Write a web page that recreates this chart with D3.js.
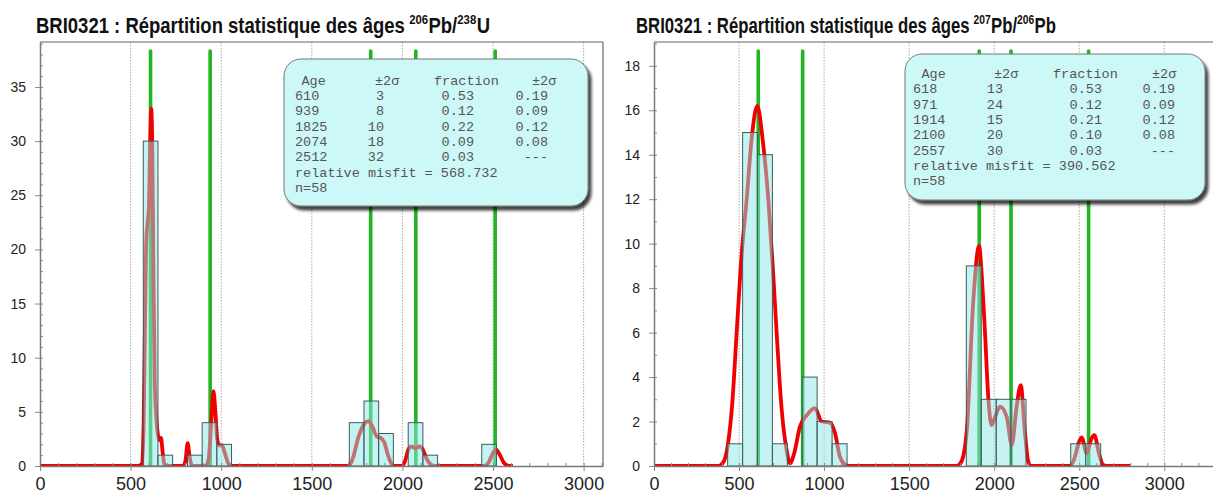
<!DOCTYPE html>
<html><head><meta charset="utf-8">
<script src="https://cdn.jsdelivr.net/npm/d3@7"></script>
<style>body{margin:0;background:#fff} svg{display:block} .pre{white-space:pre}</style>
</head><body>
<svg id="chart" width="1213" height="501"></svg>
<script>
// ---- 206Pb/238U ages (left panel) ----
const binLoU = [570, 651, 814, 895, 976, 1707, 1788, 1869, 2032, 2113, 2438];
const binHiU = [651, 732, 895, 976, 1057, 1788, 1869, 1950, 2113, 2194, 2519];
const countU = [30, 1, 1, 4, 2, 4, 6, 3, 4, 1, 2];
const peakLineU = [610, 939, 1825, 2074, 2512];
const densityU = [
  [0,0],[540,0],[562,0.2],[572,4],[580,14],[587,21],[594,22.5],[601,24],[607,29],[614,33],
  [620,29],[626,18],[633,8],[641,4.8],[650,3],[660,2.4],[668,2.6],[676,1.4],[686,0.2],[700,0],
  [790,0],[803,0.5],[815,2.1],[826,0.8],[840,0],[915,0],[930,0.6],[945,4],[957,6.9],
  [968,5],[978,2.5],[988,1.9],[1005,1.9],[1020,1.2],[1040,0.2],[1060,0],
  [1700,0],[1722,0.5],[1760,2.8],[1790,3.9],[1812,4.15],[1835,3.6],[1860,2.7],[1880,2.6],
  [1900,2.2],[1920,1],[1945,0.1],[1960,0],[2000,0],[2015,0.5],[2035,1.6],[2050,1.8],
  [2070,1.65],[2095,1.8],[2110,1.6],[2130,0.8],[2160,0.1],[2185,0],[2450,0],[2475,0.3],
  [2500,1.2],[2517,1.5],[2535,1.1],[2560,0.3],[2590,0],[2610,0]
];
const tableAgeU = ["610", "939", "1825", "2074", "2512"];
const tableAgeErrU = ["3", "8", "10", "18", "32"];
const tableFracU = ["0.53", "0.12", "0.22", "0.09", "0.03"];
const tableFracErrU = ["0.19", "0.09", "0.12", "0.08", "---"];
const misfitU = "568.732";
const yTicksU = [0, 5, 10, 15, 20, 25, 30, 35];

// ---- 207Pb/206Pb ages (right panel) ----
const binLoPb = [433, 521, 608, 696, 784, 872, 959, 1047, 1836, 1924, 2012, 2099, 2450, 2538];
const binHiPb = [521, 608, 696, 784, 872, 959, 1047, 1135, 1924, 2012, 2099, 2187, 2538, 2626];
const countPb = [1, 15, 14, 1, 0, 4, 2, 1, 9, 3, 3, 3, 1, 1];
const peakLinePb = [613, 874, 1912, 2099, 2555];
const densityPb = [
  [0,0],[380,0],[410,0.2],[433,0.9],[460,2.8],[486,6],[515,9.5],[545,12],[575,14.8],[607,16.2],
  [640,14.6],[672,12],[698,9],[721,6],[750,2.6],[780,0.7],[800,0.12],[825,0.6],[858,1.77],
  [900,2.3],[946,2.6],[986,2.0],[1035,1.95],[1064,1.48],[1093,0.42],[1123,0.06],[1145,0],
  [1780,0],[1800,0.1],[1820,0.5],[1838,1.5],[1877,7.4],[1911,9.9],[1930,8.2],[1946,6],
  [1966,3],[1985,1.84],[2005,2.2],[2034,2.67],[2074,2.2],[2103,0.94],[2132,2.67],[2156,3.64],
  [2181,1.47],[2200,0.2],[2215,0],[2440,0],[2470,0.3],[2495,1.0],[2514,1.29],[2544,0.57],
  [2570,1.2],[2589,1.39],[2615,0.6],[2640,0.05],[2660,0],[2800,0]
];
const tableAgePb = ["618", "971", "1914", "2100", "2557"];
const tableAgeErrPb = ["13", "24", "15", "20", "30"];
const tableFracPb = ["0.53", "0.12", "0.21", "0.10", "0.03"];
const tableFracErrPb = ["0.19", "0.09", "0.12", "0.08", "---"];
const misfitPb = "390.562";
const yTicksPb = [0, 2, 4, 6, 8, 10, 12, 14, 16, 18];

const sampleSize = 58;
const xMajorTicks = [0, 500, 1000, 1500, 2000, 2500, 3000];

const svg = d3.select("#chart");
const defs = svg.append("defs");
const shadow = defs.append("filter").attr("id", "boxShadow")
  .attr("x", "-10%").attr("y", "-10%").attr("width", "130%").attr("height", "130%");
shadow.append("feDropShadow").attr("dx", 3).attr("dy", 4).attr("stdDeviation", 1.6)
  .attr("flood-color", "#000").attr("flood-opacity", 0.75);

// Title built from consecutive pieces (normal text and superscripts), then
// squeezed horizontally to the wanted width.
function title(x0, base, width, iso) {
  const g = svg.append("g").attr("font-family", "'Liberation Sans', Arial, sans-serif")
    .attr("font-weight", "bold").attr("fill", "#111");
  const inner = g.append("g");
  const pieces = [
    { s: "BRI0321 : Répartition statistique des âges", sup: false, gap: 5 },
    { s: iso[0], sup: true, gap: 0.5 }, { s: "Pb/", sup: false, gap: 0 },
    { s: iso[1], sup: true, gap: 0.5 }, { s: iso[2], sup: false, gap: 0 }
  ];
  let cx = 0;
  pieces.forEach(p => {
    const t = inner.append("text").attr("class", "pre").attr("x", cx).attr("y", p.sup ? -9 : 0)
      .attr("font-size", p.sup ? 13.5 : 22).text(p.s);
    cx += t.node().getComputedTextLength() + p.gap;
  });
  g.attr("transform", `translate(${x0},${base}) scale(${width / cx},1)`);
}

function panel(cfg) {
  const g = svg.append("g");
  const x = d3.scaleLinear().domain(cfg.xDomain).range([cfg.left, cfg.right]);
  const y = d3.scaleLinear().domain(cfg.yDomain).range([cfg.bottom, cfg.top]);

  title(cfg.titleX, cfg.titleY, cfg.titleW, cfg.iso);

  const clip = "clip" + cfg.id;
  defs.append("clipPath").attr("id", clip).append("rect")
    .attr("x", cfg.left).attr("y", cfg.top).attr("width", cfg.right - cfg.left).attr("height", cfg.bottom - cfg.top);
  const plot = g.append("g").attr("clip-path", `url(#${clip})`);

  // dotted vertical grid
  plot.selectAll(".grid").data(xMajorTicks.filter(d => d > 0)).join("line")
    .attr("x1", d => x(d)).attr("x2", d => x(d)).attr("y1", cfg.top).attr("y2", cfg.bottom)
    .attr("stroke", "#aaa").attr("stroke-width", 1).attr("stroke-dasharray", "1.5,1.5");

  // component age lines
  plot.selectAll(".peak").data(cfg.peaks).join("line")
    .attr("x1", d => x(d)).attr("x2", d => x(d)).attr("y1", 51).attr("y2", cfg.bottom)
    .attr("stroke", "#22b422").attr("stroke-width", 3.6).attr("stroke-linecap", "round");

  // density curve
  const line = d3.line().x(d => x(d[0])).y(d => y(d[1])).curve(d3.curveMonotoneX);
  plot.append("path").datum(cfg.density).attr("d", line)
    .attr("fill", "none").attr("stroke", "#f00000").attr("stroke-width", 3.8).attr("stroke-linejoin", "round");

  // histogram bars
  const bins = cfg.lo.map((d, i) => ({ lo: d, hi: cfg.hi[i], n: cfg.count[i] })).filter(b => b.n > 0);
  plot.selectAll(".bar").data(bins).join("rect")
    .attr("x", d => x(d.lo)).attr("width", d => x(d.hi) - x(d.lo))
    .attr("y", d => y(d.n)).attr("height", d => y(0) - y(d.n))
    .attr("fill", "rgb(140,232,232)").attr("fill-opacity", 0.5)
    .attr("stroke", "#3d5c5c").attr("stroke-width", 1);

  // axes
  const axisStyle = sel => {
    sel.selectAll("path.domain").attr("stroke", "#7a7a7a").attr("stroke-width", 1.5);
    sel.selectAll(".tick line").attr("stroke", "#8a8a8a");
  };
  g.append("g").attr("transform", `translate(0,${cfg.bottom})`)
    .call(d3.axisTop(x).tickValues(d3.range(100, cfg.xDomain[1], 100)).tickSize(3).tickFormat("").tickSizeOuter(0))
    .call(axisStyle).call(s => s.select("path.domain").remove());
  const xa = g.append("g").attr("transform", `translate(0,${cfg.bottom})`)
    .call(d3.axisBottom(x).tickValues(xMajorTicks).tickFormat(d3.format("d")).tickSize(5).tickPadding(6).tickSizeOuter(0))
    .call(axisStyle);
  xa.selectAll("text").attr("font-family", "'Liberation Sans', Arial, sans-serif")
    .attr("font-size", 18).attr("fill", "#222");
  g.append("g").attr("transform", `translate(${cfg.left},0)`)
    .call(d3.axisRight(y).tickValues(d3.range(1, cfg.yDomain[1], 1)).tickSize(3).tickFormat("").tickSizeOuter(0))
    .call(axisStyle).call(s => s.select("path.domain").remove());
  const ya = g.append("g").attr("transform", `translate(${cfg.left},0)`)
    .call(d3.axisLeft(y).tickValues(cfg.yTicks).tickSize(5).tickPadding(9).tickSizeOuter(0))
    .call(axisStyle);
  ya.selectAll("text").attr("font-family", "'Liberation Sans', Arial, sans-serif")
    .attr("font-size", 14).attr("fill", "#222");

  // frame top / right
  g.append("line").attr("x1", cfg.left).attr("x2", cfg.right).attr("y1", cfg.top).attr("y2", cfg.top)
    .attr("stroke", "#666").attr("stroke-width", 1.2);
  g.append("line").attr("x1", cfg.right).attr("x2", cfg.right).attr("y1", cfg.top).attr("y2", cfg.bottom)
    .attr("stroke", "#666").attr("stroke-width", 1.2);

  // results box
  const b = cfg.box;
  g.append("rect").attr("x", b.x).attr("y", b.y).attr("width", b.w).attr("height", b.h)
    .attr("rx", 17).attr("ry", 17).attr("fill", "#cdf8f8").attr("stroke", "#777").attr("stroke-width", 1)
    .attr("filter", "url(#boxShadow)");
  const tg = g.append("g").attr("font-family", "'Liberation Mono', 'Courier New', monospace")
    .attr("font-size", 13.5).attr("fill", "#555");
  const c = b.cols;
  const rowY = i => b.base + i * 15.35;
  tg.append("text").attr("x", c.hAge).attr("y", rowY(0)).text("Age");
  tg.append("text").attr("x", c.hErr).attr("y", rowY(0)).text("±2σ");
  tg.append("text").attr("x", c.hFrac).attr("y", rowY(0)).text("fraction");
  tg.append("text").attr("x", c.hFErr).attr("y", rowY(0)).text("±2σ");
  cfg.tAge.forEach((d, i) => {
    tg.append("text").attr("x", c.age).attr("y", rowY(i + 1)).text(d);
    tg.append("text").attr("x", c.err).attr("y", rowY(i + 1)).attr("text-anchor", "end").text(cfg.tErr[i]);
    tg.append("text").attr("x", c.frac).attr("y", rowY(i + 1)).attr("text-anchor", "end").text(cfg.tFrac[i]);
    tg.append("text").attr("x", c.fErr).attr("y", rowY(i + 1)).attr("text-anchor", "end").text(cfg.tFErr[i]);
  });
  tg.append("text").attr("x", c.age).attr("y", rowY(6)).text("relative misfit = " + cfg.misfit);
  tg.append("text").attr("x", c.age).attr("y", rowY(7)).text("n=" + sampleSize);
}

panel({
  id: "U", iso: ["206", "238", "U"], titleX: 36, titleY: 33, titleW: 454,
  left: 40, right: 603, top: 42, bottom: 466,
  xDomain: [0, 3107], yDomain: [0, 39.15], yTicks: yTicksU,
  lo: binLoU, hi: binHiU, count: countU, peaks: peakLineU, density: densityU,
  tAge: tableAgeU, tErr: tableAgeErrU, tFrac: tableFracU, tFErr: tableFracErrU, misfit: misfitU,
  box: { x: 284, y: 59, w: 304, h: 147, base: 84.5,
    cols: { hAge: 301.5, hErr: 375, hFrac: 434, hFErr: 532, age: 295, err: 384, frac: 474, fErr: 548 } }
});

panel({
  id: "Pb", iso: ["207", "206", "Pb"], titleX: 636, titleY: 33, titleW: 420,
  left: 654, right: 1216, top: 42, bottom: 466,
  xDomain: [0, 3304], yDomain: [0, 19.07], yTicks: yTicksPb,
  lo: binLoPb, hi: binHiPb, count: countPb, peaks: peakLinePb, density: densityPb,
  tAge: tableAgePb, tErr: tableAgeErrPb, tFrac: tableFracPb, tFErr: tableFracErrPb, misfit: misfitPb,
  box: { x: 905, y: 54, w: 300, h: 146, base: 78,
    cols: { hAge: 921.5, hErr: 994, hFrac: 1053, hFErr: 1152, age: 913, err: 1003, frac: 1102, fErr: 1175 } }
});
</script>
</body></html>
